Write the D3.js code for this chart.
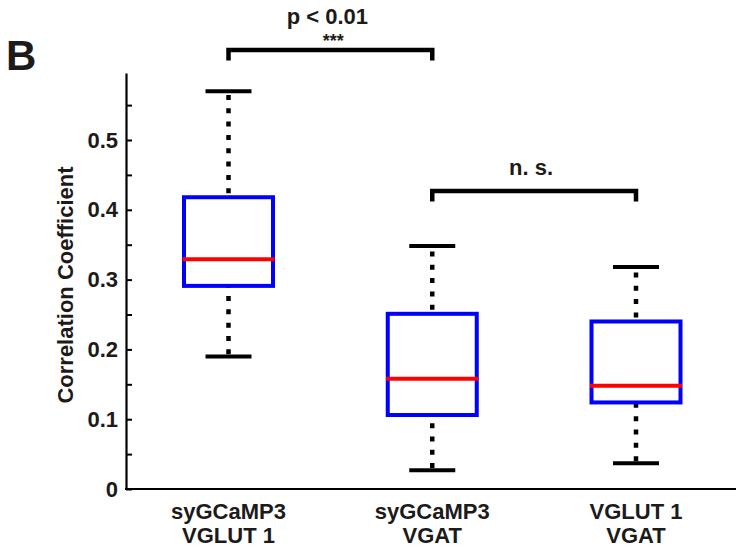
<!DOCTYPE html>
<html>
<head>
<meta charset="utf-8">
<script src="https://cdn.jsdelivr.net/npm/d3@7"></script>
<style>
  html, body { margin: 0; padding: 0; background: #fff; }
  svg { display: block; }
  text { font-family: "Liberation Sans", Arial, sans-serif; font-weight: bold; fill: #1d1a1a; }
</style>
</head>
<body>
<svg id="chart" width="736" height="549"></svg>
<script>
// Group labels (two lines each)
const categoryTop = ["syGCaMP3", "syGCaMP3", "VGLUT 1"];
const categoryBottom = ["VGLUT 1", "VGAT", "VGAT"];

// Box-plot statistics per group
const whiskerLow  = [0.19, 0.027, 0.037];
const quartile1   = [0.291, 0.106, 0.124];
const medians     = [0.329, 0.158, 0.148];
const quartile3   = [0.418, 0.251, 0.240];
const whiskerHigh = [0.57, 0.348, 0.318];

// Y axis ticks
const majorTicks = [0, 0.1, 0.2, 0.3, 0.4, 0.5];
const tickLabels = ["0", "0.1", "0.2", "0.3", "0.4", "0.5"];
const minorTicks = [0.05, 0.15, 0.25, 0.35, 0.45, 0.55];

// Significance brackets
const compareFrom = [0, 1];
const compareTo = [1, 2];
const compareLevel = [0.629, 0.427];
const compareText = ["p < 0.01", "n. s."];
const compareStars = ["***", ""];

const svg = d3.select("#chart");
const axisX = 126, baseY = 489, topY = 73;
const yLimit = 0.596;
const FONT = 22;

const y = d3.scaleLinear().domain([0, yLimit]).range([baseY, topY]);
const x = d3.scalePoint().domain(d3.range(categoryTop.length)).range([228.5, 636]);

const boxW = 89, capW = 46;
const BLUE = "#0000ff", RED = "#ff0000", INK = "#000";

// Y axis with inward major ticks
const yAxis = d3.axisLeft(y)
  .tickValues(majorTicks)
  .tickFormat((d, i) => tickLabels[i])
  .tickSizeInner(-6)
  .tickSizeOuter(0)
  .tickPadding(8);
const gy = svg.append("g").attr("transform", `translate(${axisX},0)`).call(yAxis);
gy.select(".domain").attr("stroke", INK).attr("stroke-width", 2.2);
gy.selectAll(".tick line").attr("stroke", INK).attr("stroke-width", 2);
gy.selectAll(".tick text")
  .attr("font-size", FONT)
  .attr("font-family", "'Liberation Sans', Arial, sans-serif")
  .attr("font-weight", "bold")
  .attr("fill", "#1d1a1a");

// Minor ticks
const yMinor = d3.axisLeft(y).tickValues(minorTicks).tickFormat("").tickSizeInner(-6).tickSizeOuter(0);
const gm = svg.append("g").attr("transform", `translate(${axisX},0)`).call(yMinor);
gm.select(".domain").remove();
gm.selectAll(".tick line").attr("stroke", INK).attr("stroke-width", 2);

// X baseline
svg.append("line")
  .attr("x1", axisX - 1).attr("x2", 736)
  .attr("y1", y(0)).attr("y2", y(0))
  .attr("stroke", INK).attr("stroke-width", 2.2);

// Y axis title
svg.append("text")
  .attr("transform", `translate(72.5,${(y(0) + y(yLimit)) / 2 + 4}) rotate(-90)`)
  .attr("text-anchor", "middle")
  .attr("font-size", FONT)
  .text("Correlation Coefficient");

// Panel letter
svg.append("text").attr("x", 6).attr("y", 70).attr("font-size", 42).text("B");

const groups = svg.append("g").selectAll("g")
  .data(d3.range(categoryTop.length))
  .join("g");

// Whiskers: dashed lines drawn from lower value to higher value
groups.append("line")
  .attr("x1", i => x(i)).attr("x2", i => x(i))
  .attr("y1", i => y(quartile3[i])).attr("y2", i => y(whiskerHigh[i]))
  .attr("stroke", INK).attr("stroke-width", 4.5)
  .attr("stroke-dasharray", "5,8.33").attr("stroke-dashoffset", 9.3);
groups.append("line")
  .attr("x1", i => x(i)).attr("x2", i => x(i))
  .attr("y1", i => y(whiskerLow[i])).attr("y2", i => y(quartile1[i]))
  .attr("stroke", INK).attr("stroke-width", 4.5)
  .attr("stroke-dasharray", "5,8.33").attr("stroke-dashoffset", 11.3);

// Whisker caps
[whiskerLow, whiskerHigh].forEach(arr => {
  groups.append("line")
    .attr("x1", i => x(i) - capW / 2).attr("x2", i => x(i) + capW / 2)
    .attr("y1", i => y(arr[i])).attr("y2", i => y(arr[i]))
    .attr("stroke", INK).attr("stroke-width", 4);
});

// Boxes
groups.append("rect")
  .attr("x", i => x(i) - boxW / 2)
  .attr("width", boxW)
  .attr("y", i => y(quartile3[i]))
  .attr("height", i => y(quartile1[i]) - y(quartile3[i]))
  .attr("fill", "none")
  .attr("stroke", BLUE).attr("stroke-width", 4);

// Medians
groups.append("line")
  .attr("x1", i => x(i) - boxW / 2 - 1.5).attr("x2", i => x(i) + boxW / 2 + 1.5)
  .attr("y1", i => y(medians[i])).attr("y2", i => y(medians[i]))
  .attr("stroke", RED).attr("stroke-width", 4);

// Category labels
groups.append("text")
  .attr("x", i => x(i)).attr("y", 519)
  .attr("text-anchor", "middle").attr("font-size", FONT)
  .text(i => categoryTop[i]);
groups.append("text")
  .attr("x", i => x(i)).attr("y", 543)
  .attr("text-anchor", "middle").attr("font-size", FONT)
  .text(i => categoryBottom[i]);

// Significance brackets
const drop = 0.015;
const brackets = svg.append("g").selectAll("g")
  .data(d3.range(compareFrom.length))
  .join("g");
brackets.append("path")
  .attr("d", k => {
    const x0 = x(compareFrom[k]), x1 = x(compareTo[k]);
    const yt = y(compareLevel[k]), yb = y(compareLevel[k] - drop);
    return `M${x0},${yb}V${yt}H${x1}V${yb}`;
  })
  .attr("fill", "none").attr("stroke", INK).attr("stroke-width", 4.5)
  .attr("stroke-linejoin", "miter").attr("stroke-linecap", "butt");
brackets.append("text")
  .attr("x", k => (x(compareFrom[k]) + x(compareTo[k])) / 2 - 3)
  .attr("y", k => compareStars[k] ? y(compareLevel[k]) - 26 : y(compareLevel[k]) - 16)
  .attr("text-anchor", "middle").attr("font-size", FONT)
  .text(k => compareText[k]);
brackets.filter(k => compareStars[k]).append("text")
  .attr("x", k => (x(compareFrom[k]) + x(compareTo[k])) / 2 + 3)
  .attr("y", k => y(compareLevel[k]) - 3)
  .attr("text-anchor", "middle").attr("font-size", 18)
  .text(k => compareStars[k]);
</script>
</body>
</html>
